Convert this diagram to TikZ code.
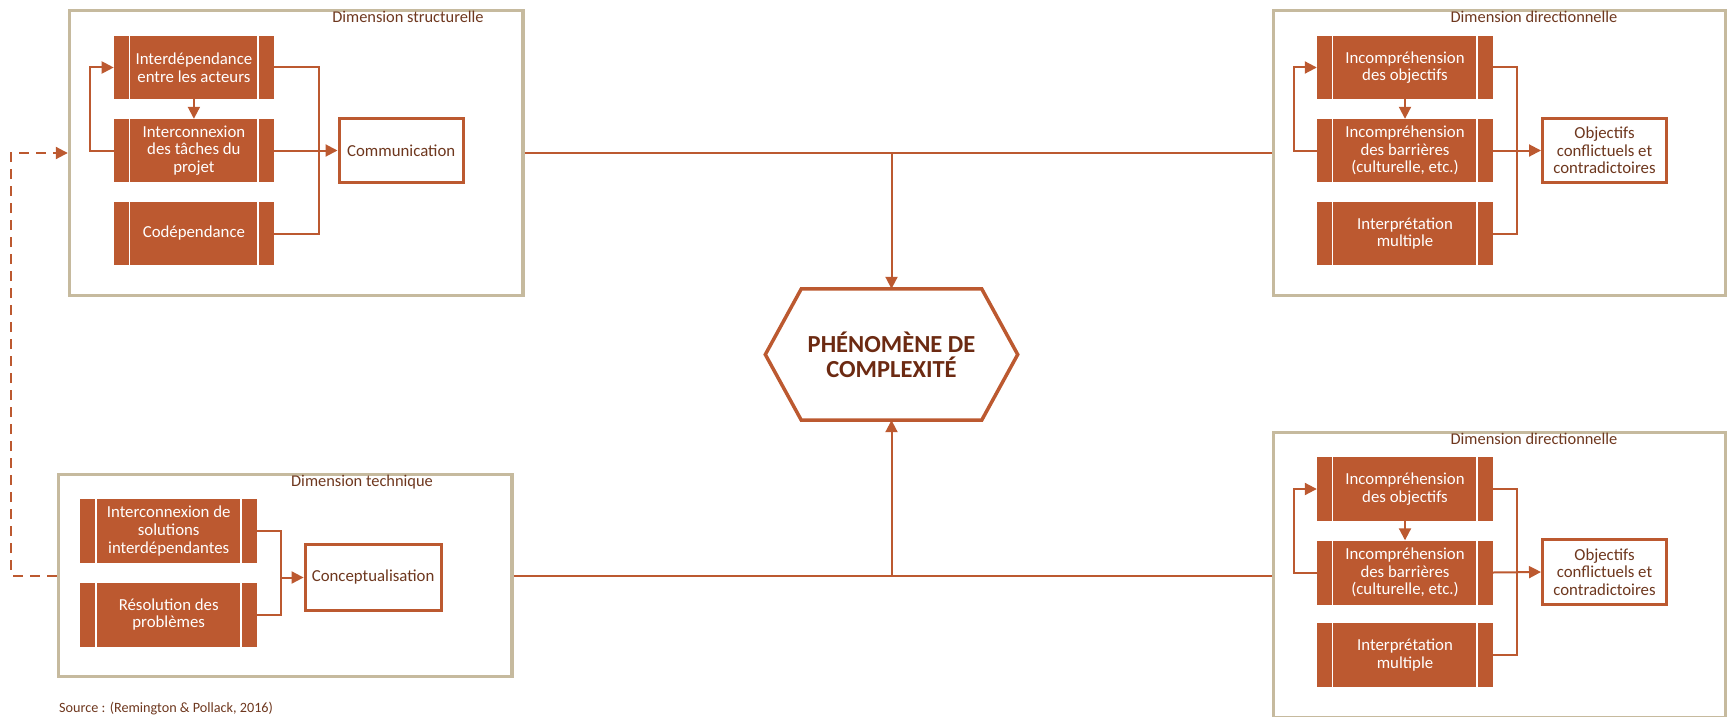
\documentclass[tikz,border=0pt]{standalone}
\usepackage{fontspec}
\setmainfont{Carlito}
\usetikzlibrary{arrows.meta}
\definecolor{rust}{RGB}{188,89,48}
\definecolor{sand}{RGB}{198,186,158}
\definecolor{ink}{RGB}{110,55,30}
\definecolor{hexink}{RGB}{108,42,18}
\newcommand\boxtxt{\fontsize{16.8}{17.7}\selectfont}
\newcommand\titletxt{\fontsize{16.4}{18}\selectfont}
\newcommand\hextxt{\fontsize{24.5}{25}\selectfont\bfseries}
\newcommand\srctxt{\fontsize{14.2}{16}\selectfont}
\begin{document}
\begin{tikzpicture}[x=1pt,y=-1pt,
  frame/.style={rectangle, draw=sand, line width=3.5pt, inner sep=0pt},
  dimtitle/.style={text=ink, font=\titletxt, inner sep=0pt},
  procbox/.style={rectangle, fill=rust, text=white, align=center,
    minimum height=63pt, inner sep=0pt, font=\boxtxt,
    path picture={
      \draw[white, line width=1.6pt]
        ([xshift=15.5pt]path picture bounding box.north west) --
        ([xshift=15.5pt]path picture bounding box.south west)
        ([xshift=-16pt]path picture bounding box.north east) --
        ([xshift=-16pt]path picture bounding box.south east);}},
  outcome/.style={rectangle, draw=rust, line width=3pt, fill=white,
    text=ink, align=center, inner sep=0pt, font=\boxtxt},
  conn/.style={draw=rust, line width=2pt},
  arr/.style={-{Triangle[length=12pt,width=12pt]}},
  dashconn/.style={draw=rust, line width=2pt, dash pattern=on 10pt off 7pt},
  src/.style={text=ink, font=\srctxt, inner sep=0pt}
]
\useasboundingbox (0,0) rectangle (1735,717);

% ---------- dimension frames ----------
\node[frame, minimum width=453.5pt, minimum height=285pt] (SB) at (296.3,153) {};
\node[frame, minimum width=452pt, minimum height=285pt] (DB1) at (1499.5,153) {};
\node[frame, minimum width=453.5pt, minimum height=202pt] (TB) at (285.3,575.5) {};
\node[frame, minimum width=452pt, minimum height=285pt] (DB2) at (1499.5,575) {};

\node[dimtitle] (tSB) at (408,17) {Dimension structurelle};
\node[dimtitle] (tDB1) at (1534,17) {Dimension directionnelle};
\node[dimtitle] (tTB) at (362,482) {Dimension technique};
\node[dimtitle] (tDB2) at (1534,439) {Dimension directionnelle};

% ---------- structural dimension ----------
\node[procbox, minimum width=160pt] (a1) at (193.9,67.5) {Interdépendance\\entre les acteurs};
\node[procbox, minimum width=160pt] (a2) at (193.9,150.5) {Interconnexion\\des tâches du\\projet};
\node[procbox, minimum width=160pt] (a3) at (193.9,233.5) {Codépendance};
\node[outcome, minimum width=124.4pt, minimum height=64pt] (comm) at (401.2,150.5) {Communication};

\draw[conn,arr] (a1) -- (a2);
\draw[conn,arr] (a2.west) -- ++(-23.5,0) |- (a1.west);
\draw[conn] (a1.east) -- ++(45,0) |- (a3.east);
\draw[conn,arr] (a2.east) -- (comm.west);

% ---------- directional dimension (top) ----------
\node[procbox, minimum width=176pt] (b1) at (1405,67.5) {Incompréhension\\des objectifs};
\node[procbox, minimum width=176pt] (b2) at (1405,150.5) {Incompréhension\\des barrières\\(culturelle, etc.)};
\node[procbox, minimum width=176pt] (b3) at (1405,233.5) {Interprétation\\multiple};
\node[outcome, minimum width=124pt, minimum height=64pt] (obj1) at (1604.5,150.5) {Objectifs\\conflictuels et\\contradictoires};

\draw[conn,arr] (b1) -- (b2);
\draw[conn,arr] (b2.west) -- ++(-23,0) |- (b1.west);
\draw[conn] (b1.east) -- ++(24,0) |- (b3.east);
\draw[conn,arr] (b2.east) -- (obj1.west);

% ---------- technical dimension ----------
\node[procbox, minimum width=177pt, minimum height=64pt] (c1) at (168.7,531) {Interconnexion de\\solutions\\interdépendantes};
\node[procbox, minimum width=177pt, minimum height=64pt] (c2) at (168.7,614.5) {Résolution des\\problèmes};
\node[outcome, minimum width=136pt, minimum height=66pt] (concept) at (373.1,577.5) {Conceptualisation};

\draw[conn] (c1.east) -- ++(24,0) |- (c2.east);
\coordinate (cj) at ([xshift=24pt]c1.east);
\draw[conn,arr] (cj |- concept.west) -- (concept.west);

% ---------- directional dimension (bottom) ----------
\node[procbox, minimum width=176pt, minimum height=64pt] (d1) at (1405,489) {Incompréhension\\des objectifs};
\node[procbox, minimum width=176pt, minimum height=64pt] (d2) at (1405,572.5) {Incompréhension\\des barrières\\(culturelle, etc.)};
\node[procbox, minimum width=176pt, minimum height=64pt] (d3) at (1405,655) {Interprétation\\multiple};
\node[outcome, minimum width=124pt, minimum height=65pt] (obj2) at (1604.5,572) {Objectifs\\conflictuels et\\contradictoires};

\draw[conn,arr] (d1) -- (d2);
\draw[conn,arr] (d2.west) -- ++(-23,0) |- (d1.west);
\draw[conn] (d1.east) -- ++(24,0) |- (d3.east);
\draw[conn,arr] (d2.east) -- (obj2.west);

% ---------- central phenomenon ----------
\node[minimum width=180pt, minimum height=131pt, inner sep=0pt, text=hexink,
      align=center, font=\hextxt] (hex) at (891.5,354.5) {PHÉNOMÈNE DE\\COMPLEXITÉ};
\draw[draw=rust, line width=3.5pt, line join=miter]
  (hex.north west) -- (hex.north east) -- ([xshift=36pt]hex.east) --
  (hex.south east) -- (hex.south west) -- ([xshift=-36pt]hex.west) -- cycle;

% ---------- links between dimensions ----------
\draw[conn] (SB.east) -- (DB1.west);
\coordinate (hexin) at (hex.north |- SB.east);
\draw[conn,arr] (hexin) -- (hex.north);
\draw[conn] (TB.east) -- (TB.east -| DB2.west);
\coordinate (hexout) at (hex.south |- TB.east);
\draw[conn,arr] (hexout) -- (hex.south);

\draw[dashconn,arr] (TB.west) -- ++(-45.5,0) |- (SB.west);

\node[src, anchor=west] (source) at (59,709) {Source : (Remington \& Pollack, 2016)};
\end{tikzpicture}
\end{document}
